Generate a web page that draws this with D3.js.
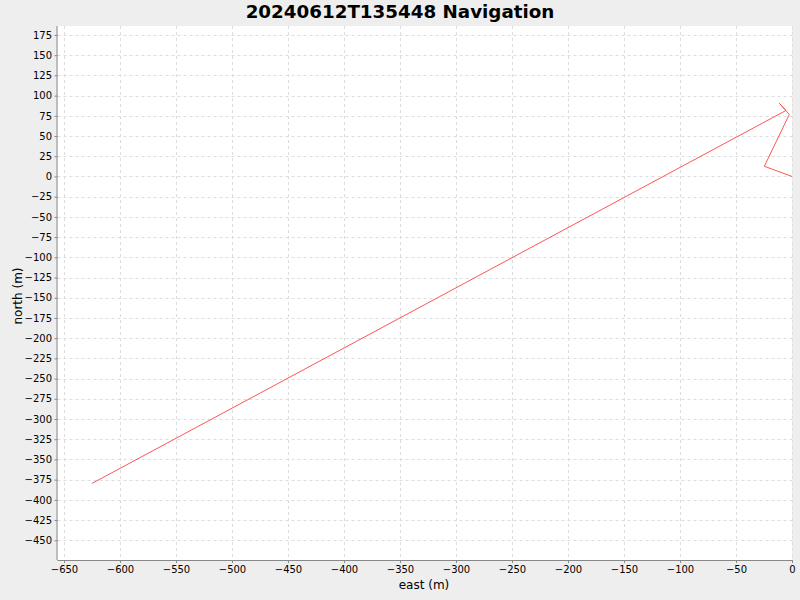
<!DOCTYPE html>
<html><head><meta charset="utf-8">
<script src="https://cdn.jsdelivr.net/npm/d3@7"></script>
<style>body{margin:0;background:#eeeeee;}svg{display:block;font-family:"DejaVu Sans",sans-serif;}</style>
</head><body>
<svg id="c" width="800" height="600"></svg>
<script>
const title = "20240612T135448 Navigation";
const east = [0, -24.7, -2.4, -11.3, -5.4, -625];
const north = [0, 12.6, 76.7, 90.5, 81.6, -379.7];
const xTicks = d3.range(-650, 1, 50);
const yTicks = d3.range(-450, 176, 25);

const svg = d3.select("#c");
const L = 57.5, R = 792, T = 26, B = 560;
const x = d3.scaleLinear().domain([-655.8, 0]).range([L, R]);
const y = d3.scaleLinear().domain([-474.4, 186.1]).range([B, T]);

svg.append("rect").attr("width",800).attr("height",600).attr("fill","#eeeeee");
svg.append("rect").attr("x",L).attr("y",T).attr("width",R-L).attr("height",B-T).attr("fill","#ffffff");

const g = svg.append("g");
g.selectAll(".gx").data(xTicks).join("line")
  .attr("x1",d=>Math.round(x(d))+0.5).attr("x2",d=>Math.round(x(d))+0.5)
  .attr("y1",T).attr("y2",B).attr("stroke","#dddddd").attr("stroke-dasharray","3,3");
g.selectAll(".gy").data(yTicks).join("line")
  .attr("y1",d=>Math.round(y(d))+0.5).attr("y2",d=>Math.round(y(d))+0.5)
  .attr("x1",L).attr("x2",R).attr("stroke","#dddddd").attr("stroke-dasharray","3,3");

const pts = east.map((e,i)=>[e, north[i]]);
svg.append("path").datum(pts)
  .attr("d", d3.line().x(d=>x(d[0])).y(d=>y(d[1])))
  .attr("fill","none").attr("stroke","#ff5555").attr("stroke-width",1);

const xAxis = svg.append("g").attr("transform",`translate(0,${B})`)
  .call(d3.axisBottom(x).tickValues(xTicks).tickSize(3).tickPadding(3).tickFormat(d3.format("d")));
const yAxis = svg.append("g").attr("transform",`translate(${L},0)`)
  .call(d3.axisLeft(y).tickValues(yTicks).tickSize(3).tickPadding(2.5).tickFormat(d3.format("d")));
[xAxis,yAxis].forEach(a=>{
  a.select(".domain").attr("stroke","#888888");
  a.selectAll(".tick line").attr("stroke","#888888");
  a.selectAll("text").attr("font-size","10px").attr("fill","#000").attr("font-family","DejaVu Sans, sans-serif");
});
xAxis.select(".domain").attr("d",`M${L},0.5H${R}`);
yAxis.select(".domain").attr("d",`M-0.5,${T}V${B}`);

svg.append("text").attr("x",400).attr("y",18).attr("text-anchor","middle")
  .attr("font-size","18.3px").attr("font-weight","bold").text(title);
svg.append("text").attr("x",424).attr("y",589).attr("text-anchor","middle")
  .attr("font-size","12px").text("east (m)");
svg.append("text").attr("transform","translate(22,296) rotate(-90)").attr("text-anchor","middle")
  .attr("font-size","12px").text("north (m)");
</script>
</body></html>
